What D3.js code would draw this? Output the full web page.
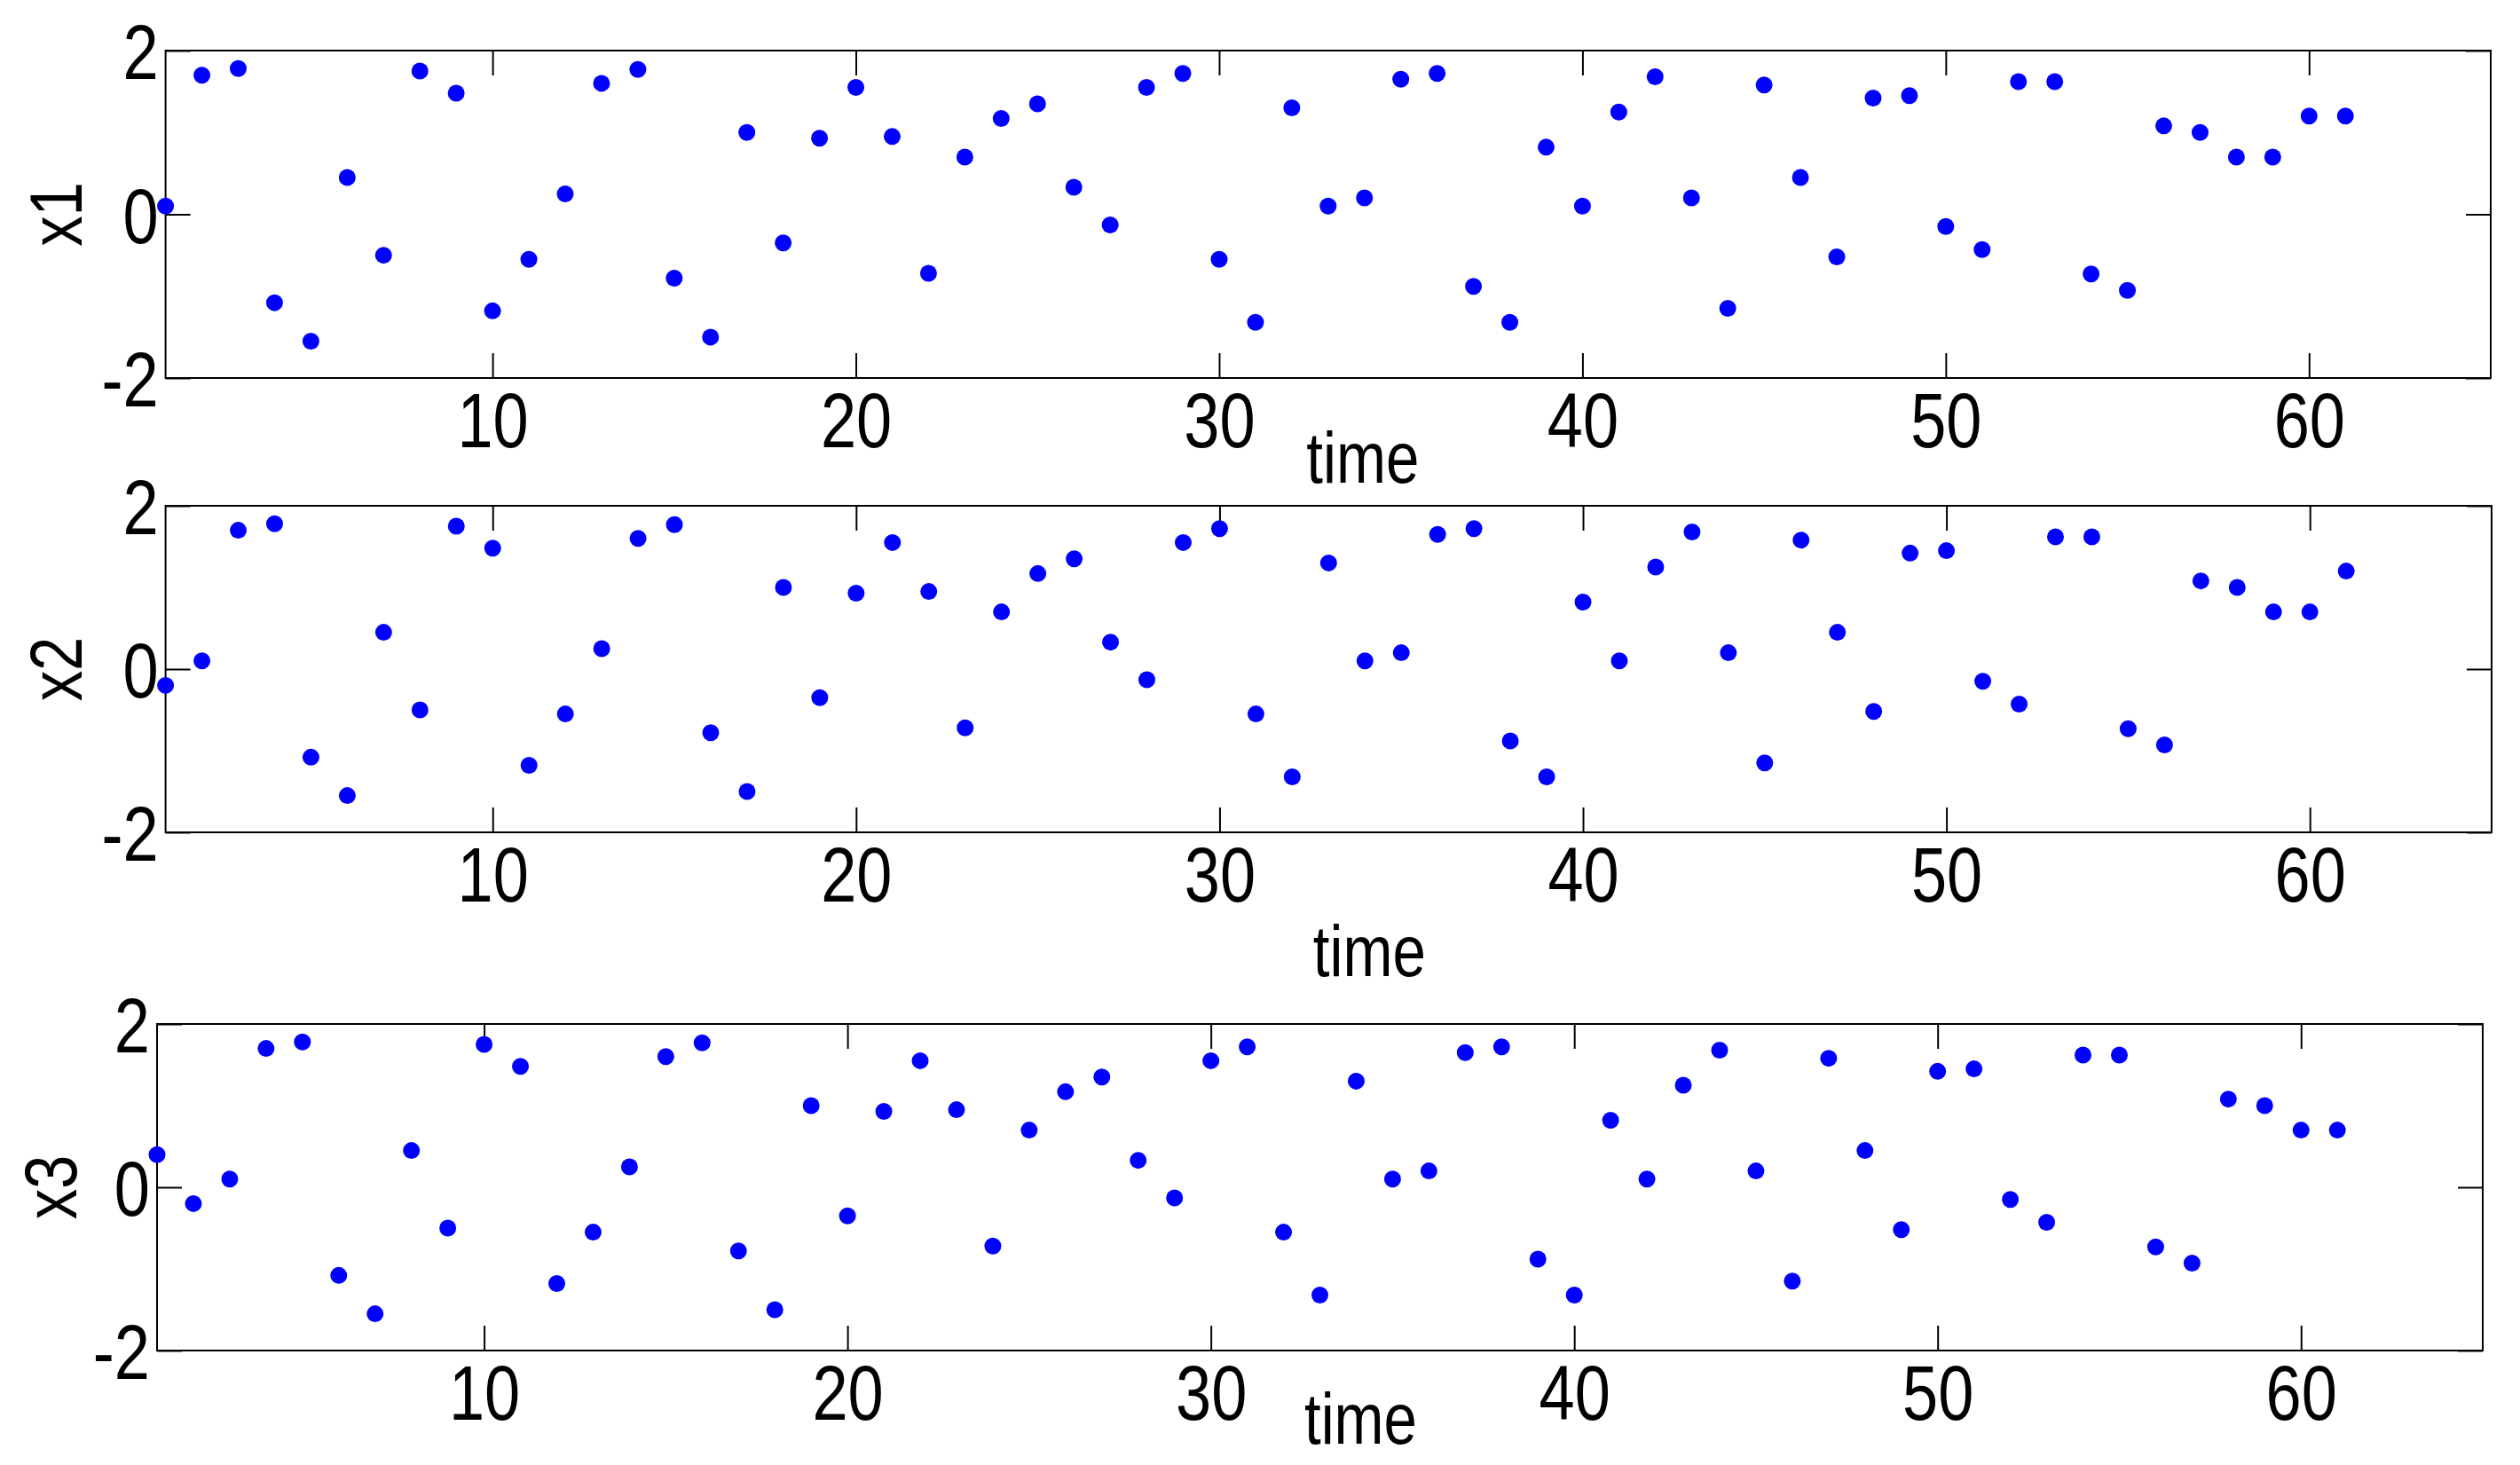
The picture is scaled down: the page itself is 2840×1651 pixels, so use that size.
<!DOCTYPE html>
<html><head><meta charset="utf-8">
<script src="https://cdn.jsdelivr.net/npm/d3@7"></script>
<style>body{margin:0;background:#fff}svg{display:block}text{font-family:"Liberation Sans",Arial,sans-serif}</style>
</head><body>
<script>
const x1 = [0.1,1.7,1.78,-1.08,-1.55,0.45,-0.5,1.75,1.48,-1.18,-0.55,0.25,1.6,1.77,-0.78,-1.5,1.0,-0.35,0.93,1.55,0.95,-0.72,0.7,1.17,1.35,0.33,-0.13,1.55,1.72,-0.55,-1.32,1.3,0.1,0.2,1.65,1.72,-0.88,-1.32,0.82,0.1,1.25,1.68,0.2,-1.15,1.58,0.45,-0.52,1.42,1.45,-0.15,-0.43,1.62,1.62,-0.73,-0.93,1.08,1.0,0.7,0.7,1.2,1.2];
const x2 = [-0.2].concat(x1.slice(0,60));
const x3 = [0.4,-0.2].concat(x1.slice(0,59));
const seriesNames = ["x1","x2","x3"];
const seriesData = [x1,x2,x3];
const xTicks = [10,20,30,40,50,60];
const yTicks = [-2,0,2];

const W=2840,H=1651;
const FF='"Liberation Sans",Arial,sans-serif';
const SX=0.82;
const svg=d3.select("body").append("svg").attr("width",W).attr("height",H);
const panels=[
  {l:186.6,r:2807,t:57,b:426,tl:516},
  {l:186.6,r:2808,t:570,b:938,tl:1072},
  {l:177,r:2798,t:1154,b:1522,tl:1599}
];
panels.forEach((p,i)=>{
  const x=d3.scaleLinear().domain([1,65]).range([p.l,p.r]);
  const y=d3.scaleLinear().domain([-2,2]).range([p.b,p.t]);
  const g=svg.append("g");
  g.append("rect").attr("x",p.l).attr("y",p.t).attr("width",p.r-p.l).attr("height",p.b-p.t)
    .attr("fill","none").attr("stroke","#000").attr("stroke-width",2);
  const tl=28;
  const fmt=d=>String(d);
  const axB=g.append("g").attr("transform",`translate(0,${p.b})`)
    .call(d3.axisBottom(x).tickValues(xTicks).tickSize(-tl).tickPadding(16).tickFormat(fmt));
  const axT=g.append("g").attr("transform",`translate(0,${p.t})`)
    .call(d3.axisTop(x).tickValues(xTicks).tickSize(-tl).tickFormat(""));
  const axL=g.append("g").attr("transform",`translate(${p.l},0)`)
    .call(d3.axisLeft(y).tickValues(yTicks).tickSize(-tl).tickPadding(8/SX).tickFormat(fmt));
  const axR=g.append("g").attr("transform",`translate(${p.r},0)`)
    .call(d3.axisRight(y).tickValues(yTicks).tickSize(-tl).tickFormat(""));
  [axB,axT,axL,axR].forEach(a=>{a.select(".domain").remove();
    a.selectAll("line").attr("stroke","#000").attr("stroke-width",2);
    a.selectAll("text").attr("font-size",88).attr("fill","#000").attr("font-family",FF)
      .attr("transform",`scale(${SX},1)`);});
  axL.selectAll("text").attr("dy","0.36em");
  g.selectAll("circle").data(seriesData[i]).join("circle")
    .attr("cx",(d,j)=>x(j+1)).attr("cy",d=>y(d)).attr("r",9.5).attr("fill","#0000ff");
  g.append("text").attr("transform",`translate(${i==2?86:92},${(p.t+p.b)/2}) rotate(-90) scale(${SX},1)`)
    .attr("text-anchor","middle").attr("font-size",84).attr("font-family",FF).text(seriesNames[i]);
  g.append("text").attr("transform",`translate(${(p.l+p.r)/2+(i==0?39:46)},${p.tl+28}) scale(${SX},1)`)
    .attr("text-anchor","middle").attr("font-size",82).attr("font-family",FF).text("time");
});
</script>
</body></html>
